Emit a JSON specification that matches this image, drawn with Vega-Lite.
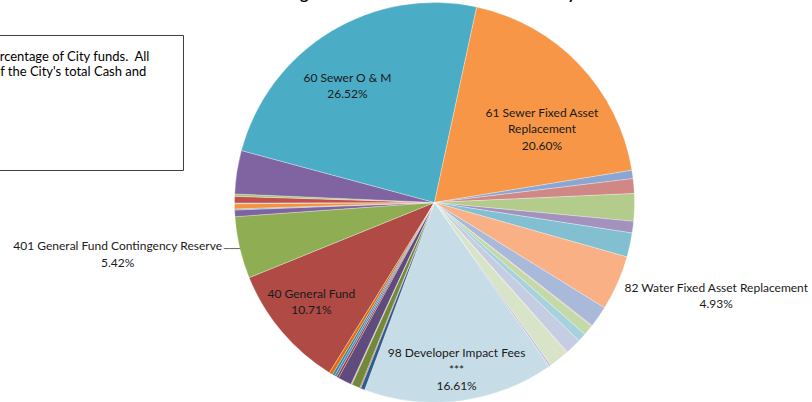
{
  "$schema": "https://vega.github.io/schema/vega-lite/v6.json",
  "autosize": {"type": "none"},
  "padding": {"left": 57, "top": 2, "right": 0, "bottom": 0},
  "width": 755,
  "height": 401,
  "background": "#ffffff",
  "config": {"view": {"stroke": null}},
  "title": {
    "text": "Percentage of Total Cash and Investments - City",
    "font": "Lato", "fontSize": 16, "fontWeight": "bold", "color": "#000000",
    "anchor": "middle", "frame": "group", "offset": -13, "baseline": "alphabetic", "dx": -28
  },
  "data": {"values": [
    {"order": 1, "fund": "40 General Fund", "share": 10.06, "label": "40 General Fund\n10.71%"},
    {"order": 2, "fund": "401 General Fund Contingency Reserve", "share": 5.00, "label": "401 General Fund Contingency Reserve\n5.42%"},
    {"order": 3, "fund": "Other fund 03", "share": 0.53, "label": ""},
    {"order": 4, "fund": "Other fund 04", "share": 0.08, "label": ""},
    {"order": 5, "fund": "Other fund 05", "share": 0.42, "label": ""},
    {"order": 6, "fund": "Other fund 06", "share": 0.06, "label": ""},
    {"order": 7, "fund": "Other fund 07", "share": 0.53, "label": ""},
    {"order": 8, "fund": "Other fund 08", "share": 0.19, "label": ""},
    {"order": 9, "fund": "Other fund 09", "share": 3.50, "label": ""},
    {"order": 10, "fund": "60 Sewer O & M", "share": 24.19, "label": "60 Sewer O & M\n26.52%"},
    {"order": 11, "fund": "61 Sewer Fixed Asset Replacement", "share": 19.03, "label": "61 Sewer Fixed Asset\nReplacement\n20.60%"},
    {"order": 12, "fund": "Other fund 12", "share": 0.67, "label": ""},
    {"order": 13, "fund": "Other fund 13", "share": 1.19, "label": ""},
    {"order": 14, "fund": "Other fund 14", "share": 2.22, "label": ""},
    {"order": 15, "fund": "Other fund 15", "share": 0.94, "label": ""},
    {"order": 16, "fund": "Other fund 16", "share": 1.94, "label": ""},
    {"order": 17, "fund": "82 Water Fixed Asset Replacement", "share": 4.44, "label": "82 Water Fixed Asset Replacement\n4.93%"},
    {"order": 18, "fund": "Other fund 18", "share": 1.72, "label": ""},
    {"order": 19, "fund": "Other fund 19", "share": 0.08, "label": ""},
    {"order": 20, "fund": "Other fund 20", "share": 0.83, "label": ""},
    {"order": 21, "fund": "Other fund 21", "share": 0.69, "label": ""},
    {"order": 22, "fund": "Other fund 22", "share": 1.28, "label": ""},
    {"order": 23, "fund": "Other fund 23", "share": 0.08, "label": ""},
    {"order": 24, "fund": "Other fund 24", "share": 1.61, "label": ""},
    {"order": 25, "fund": "Other fund 25", "share": 0.17, "label": ""},
    {"order": 26, "fund": "98 Developer Impact Fees", "share": 15.39, "label": "98 Developer Impact Fees\n***\n16.61%"},
    {"order": 27, "fund": "Other fund 27", "share": 0.33, "label": ""},
    {"order": 28, "fund": "Other fund 28", "share": 0.08, "label": ""},
    {"order": 29, "fund": "Other fund 29", "share": 0.69, "label": ""},
    {"order": 30, "fund": "Other fund 30", "share": 0.08, "label": ""},
    {"order": 31, "fund": "Other fund 31", "share": 1.11, "label": ""},
    {"order": 32, "fund": "Other fund 32", "share": 0.17, "label": ""},
    {"order": 33, "fund": "Other fund 33", "share": 0.19, "label": ""},
    {"order": 34, "fund": "Other fund 34", "share": 0.19, "label": ""},
    {"order": 35, "fund": "Other fund 35", "share": 0.28, "label": ""}
  ]},
  "encoding": {
    "theta": {"field": "share", "type": "quantitative", "stack": true, "scale": {"range": [3.6949, 9.9781]}},
    "order": {"field": "order", "type": "quantitative"}
  },
  "layer": [
    {
      "mark": {"type": "arc", "radius": 200, "stroke": "#ffffff", "strokeWidth": 0.5, "strokeOpacity": 0.6},
      "encoding": {
        "color": {
          "field": "fund", "type": "nominal",
          "scale": {
            "domain": ["40 General Fund", "401 General Fund Contingency Reserve", "Other fund 03", "Other fund 04", "Other fund 05", "Other fund 06", "Other fund 07", "Other fund 08", "Other fund 09", "60 Sewer O & M", "61 Sewer Fixed Asset Replacement", "Other fund 12", "Other fund 13", "Other fund 14", "Other fund 15", "Other fund 16", "82 Water Fixed Asset Replacement", "Other fund 18", "Other fund 19", "Other fund 20", "Other fund 21", "Other fund 22", "Other fund 23", "Other fund 24", "Other fund 25", "98 Developer Impact Fees", "Other fund 27", "Other fund 28", "Other fund 29", "Other fund 30", "Other fund 31", "Other fund 32", "Other fund 33", "Other fund 34", "Other fund 35"],
            "range": ["#af4a45", "#8fad52", "#7e63a0", "#4bacc6", "#f49443", "#9fa9c4", "#c0504d", "#a9c46f", "#8064a2", "#4aacc5", "#f79646", "#8aa7d4", "#d08886", "#b3cb8b", "#a391be", "#82c0d1", "#f9b084", "#a9b9da", "#e0a9a8", "#c4d9a8", "#a7d1dd", "#c5cde2", "#e8baba", "#d8e4c8", "#c9bfdc", "#c6dde7", "#2c5d8f", "#c0504d", "#71893b", "#d99694", "#5f4b7c", "#953735", "#4f81bd", "#31859c", "#e46c0a"]
          },
          "legend": {
            "values": ["40 General Fund"],
            "orient": "none", "legendX": -290, "legendY": 33,
            "title": ["The pie chart shows each fund as a percentage of City funds.\u00a0 All\u2003\u2002\u200b", "funds taken together make up 100% of the City's total Cash and", "Investments.", "\u00a0", "\u00a0", "\u00a0"],
            "titleFont": "Lato", "titleFontSize": 13, "titleFontWeight": "normal", "titleColor": "#000000",
            "titleLineHeight": 15, "titleAlign": "left", "titleAnchor": "start", "titleLimit": 2000, "titlePadding": 3.5, "titleBaseline": "top",
            "padding": 16, "strokeColor": "#404040", "fillColor": "#ffffff",
            "symbolOpacity": 0, "labelOpacity": 0, "symbolSize": 100, "labelFontSize": 10
          }
        }
      }
    },
    {
      "mark": {"type": "text", "radius": 208, "dy": -1, "align": "center", "baseline": "middle", "font": "DejaVu Sans", "fontSize": 9, "fill": "#404040"},
      "encoding": {"text": {"condition": {"test": "datum.fund === '401 General Fund Contingency Reserve'", "value": "\u2500\u2500\u2500"}, "value": ""}}
    },
    {
      "mark": {"type": "text", "radius": 146, "dx": -11, "dy": 0, "align": "center", "baseline": "middle", "lineBreak": "\n", "font": "Lato", "fontSize": 12, "lineHeight": 16, "fill": "#1a1a1a"},
      "encoding": {"text": {"condition": {"test": "datum.fund === '60 Sewer O & M'", "field": "label", "type": "nominal"}, "value": ""}}
    },
    {
      "mark": {"type": "text", "radius": 129, "dx": 14, "dy": -1, "align": "center", "baseline": "middle", "lineBreak": "\n", "font": "Lato", "fontSize": 12, "lineHeight": 16.5, "fill": "#1a1a1a"},
      "encoding": {"text": {"condition": {"test": "datum.fund === '61 Sewer Fixed Asset Replacement'", "field": "label", "type": "nominal"}, "value": ""}}
    },
    {
      "mark": {"type": "text", "radius": 158.5, "dx": -2, "dy": -11, "align": "center", "baseline": "middle", "lineBreak": "\n", "font": "Lato", "fontSize": 12, "lineHeight": 16, "fill": "#1a1a1a"},
      "encoding": {"text": {"condition": {"test": "datum.fund === '40 General Fund'", "field": "label", "type": "nominal"}, "value": ""}}
    },
    {
      "mark": {"type": "text", "radius": 167, "dx": 1, "dy": -15, "align": "center", "baseline": "middle", "lineBreak": "\n", "font": "Lato", "fontSize": 12, "lineHeight": 16.5, "fill": "#1a1a1a"},
      "encoding": {"text": {"condition": {"test": "datum.fund === '98 Developer Impact Fees'", "field": "label", "type": "nominal"}, "value": ""}}
    },
    {
      "mark": {"type": "text", "radius": 219, "dx": -103.5, "dy": -6.5, "align": "center", "baseline": "middle", "lineBreak": "\n", "font": "Lato", "fontSize": 12, "lineHeight": 17, "fill": "#1a1a1a"},
      "encoding": {"text": {"condition": {"test": "datum.fund === '401 General Fund Contingency Reserve'", "field": "label", "type": "nominal"}, "value": ""}}
    },
    {
      "mark": {"type": "text", "radius": 215, "dx": 85, "dy": -1, "align": "center", "baseline": "middle", "lineBreak": "\n", "font": "Lato", "fontSize": 12, "lineHeight": 16, "fill": "#1a1a1a"},
      "encoding": {"text": {"condition": {"test": "datum.fund === '82 Water Fixed Asset Replacement'", "field": "label", "type": "nominal"}, "value": ""}}
    }
  ]
}
